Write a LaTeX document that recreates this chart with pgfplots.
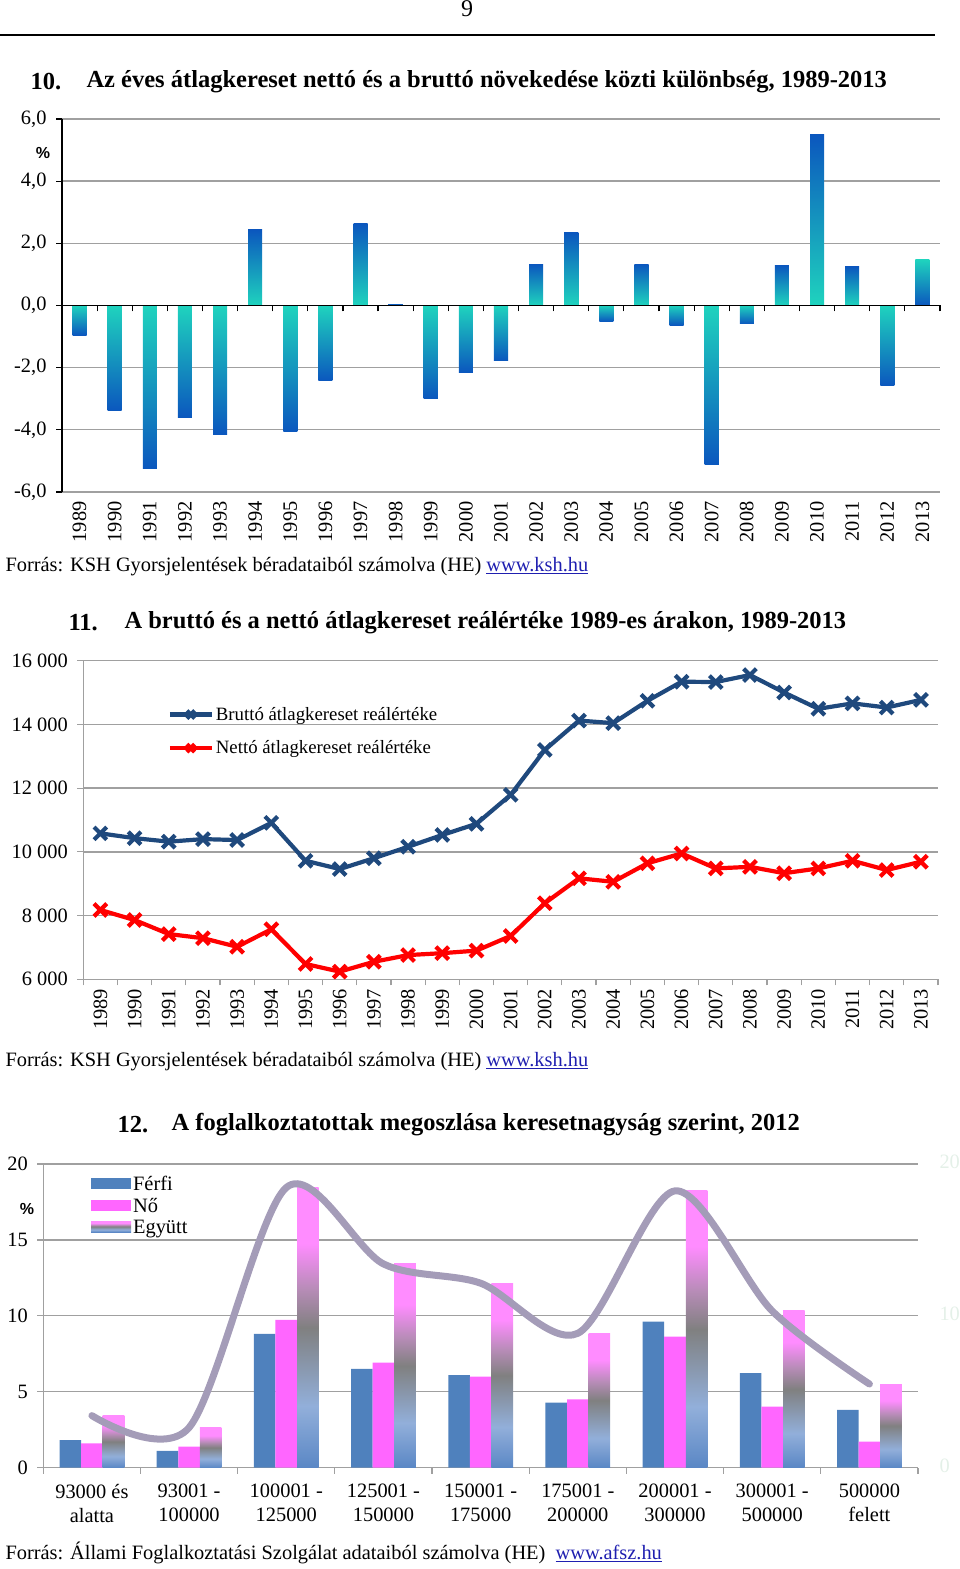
\documentclass[border=0pt]{standalone}
\usepackage{pgfplots}
\usepackage{pgfplotstable}
\pgfplotsset{compat=1.18}
\usepackage{fontspec}
\setmainfont{Liberation Serif}
\newfontfamily\sansf{Liberation Sans}

\definecolor{gridgray}{HTML}{A0A0A0}
\definecolor{ptop}{HTML}{0B57BE}
\definecolor{pmid}{HTML}{17A6E0}
\definecolor{pbot}{HTML}{1FD3BE}
\definecolor{bruttoblue}{HTML}{1F497D}
\definecolor{nettored}{HTML}{FF0000}
\definecolor{ferfi}{HTML}{4F81BD}
\definecolor{nocol}{HTML}{FF66FF}
\definecolor{linkblue}{HTML}{1F1FB0}
\definecolor{faint}{HTML}{E4F0E8}
\definecolor{curvecol}{HTML}{A49CB8}
\definecolor{eblue}{HTML}{5A87C5}
\definecolor{elblue}{HTML}{92AFDA}
\definecolor{egray}{HTML}{808080}
\definecolor{emauve}{HTML}{B88CB8}
\definecolor{epink}{HTML}{FF8CFF}

\pgfdeclareverticalshading{egyutt}{100bp}{color(0bp)=(eblue); color(25bp)=(eblue); color(36bp)=(elblue); color(50bp)=(egray); color(57bp)=(emauve); color(65bp)=(epink); color(100bp)=(epink)}

\newcommand{\ts}{\fontsize{20.4}{24}\selectfont}
\newcommand{\titf}{\fontsize{24.5}{26}\selectfont\bfseries}

% 10. abra: netto es brutto novekedes kozti kulonbseg (%)
\pgfplotstableread{
year diff
1989 -0.95
1990 -3.38
1991 -5.25
1992 -3.60
1993 -4.15
1995 -4.06
1996 -2.42
1999 -3.00
2000 -2.14
2001 -1.78
2004 -0.51
2006 -0.63
2007 -5.12
2008 -0.59
2012 -2.58
2013 1.47
}\diffdown
\pgfplotstableread{
year diff
1994 2.43
1997 2.63
1998 0.05
2002 1.32
2003 2.34
2005 1.32
2009 1.29
2010 5.49
2011 1.25
}\diffup

% 11. abra: realertek 1989-es arakon
\pgfplotstableread{
year brutto netto
1989 10580 8175
1990 10430 7860
1991 10320 7420
1992 10400 7290
1993 10370 7020
1994 10910 7570
1995 9720 6480
1996 9460 6240
1997 9800 6550
1998 10160 6760
1999 10530 6820
2000 10880 6900
2001 11790 7360
2002 13200 8390
2003 14120 9170
2004 14040 9060
2005 14740 9640
2006 15340 9950
2007 15330 9480
2008 15550 9530
2009 15000 9330
2010 14490 9480
2011 14660 9720
2012 14530 9430
2013 14770 9690
}\realdata

% 12. abra: megoszlas keresetnagysag szerint
\pgfplotstableread{
idx ferfi no egyutt
0 1.82 1.60 3.43
1 1.10 1.38 2.64
2 8.81 9.73 18.45
3 6.50 6.92 13.42
4 6.10 6.00 12.15
5 4.28 4.50 8.85
6 9.62 8.63 18.23
7 6.22 4.02 10.32
8 3.80 1.71 5.51
}\distdata

\pgfplotsset{
  rectlegend/.style={legend image code/.code={\path[##1, draw=none] (0pt,-5pt) rectangle (40pt,6pt);}},
}

\begin{document}
\begin{tikzpicture}[x=1pt,y=1pt]
\useasboundingbox (0,0) rectangle (960,1569);
\node[font=\fontsize{24}{24}\selectfont] at (467,1560) {9};
\draw[line width=1.5pt] (0,1534) -- (935,1534);

\node[anchor=west, font=\titf] at (27,1487) {10.};
\node[anchor=west, font=\titf] at (83,1487) {Az éves átlagkereset nettó és a bruttó növekedése közti különbség, 1989-2013};

\begin{axis}[
  at={(62pt,1077pt)}, anchor=south west, scale only axis,
  width=878pt, height=373pt,
  xmin=1988.5, xmax=2013.5, ymin=-6, ymax=6,
  axis y line*=left, axis x line*=bottom,
  x axis line style={draw=none},
  y axis line style={-, black, line width=1.3pt},
  xtick={1989,...,2013}, xtick style={draw=none},
  xticklabel style={rotate=90, anchor=east, /pgf/number format/set thousands separator={}},
  ytick={-6,-4,...,6}, ytick style={black, line width=1.2pt},
  tick align=outside, major tick length=6pt,
  yticklabel style={xshift=-6pt, /pgf/number format/.cd, fixed, fixed zerofill, precision=1, use comma},
  ymajorgrids, grid style={gridgray, line width=1.3pt},
  /pgf/number format/assume math mode=true,
  tick label style={font=\ts},
]
\pgfplotsinvokeforeach{1994,1997,1998,2002,2003,2005,2009,2010,2011}{
  \addplot[ybar, bar width=0.40, bar shift=0pt, draw=none, top color=ptop, middle color=pmid, bottom color=pbot, restrict x to domain=#1:#1] table[x=year, y=diff] {\diffup};
}
\pgfplotsinvokeforeach{1989,1990,1991,1992,1993,1995,1996,1999,2000,2001,2004,2006,2007,2008,2012,2013}{
  \addplot[ybar, bar width=0.40, bar shift=0pt, draw=none, top color=pbot, middle color=pmid, bottom color=ptop, restrict x to domain=#1:#1] table[x=year, y=diff] {\diffdown};
}
\end{axis}
\begin{axis}[
  at={(62pt,1077pt)}, anchor=south west, scale only axis,
  width=878pt, height=373pt,
  xmin=1988.5, xmax=2013.5, ymin=-6, ymax=6,
  axis x line=middle, axis y line=none,
  x axis line style={-, black, line width=1.5pt},
  xtick={1988.5,1989.5,...,2013.5}, xticklabels={},
  ytick=\empty,
  xtick style={black, line width=1.2pt},
  tick align=outside, major tick length=6pt,
]
\end{axis}
\node[font=\sansf\bfseries\fontsize{16}{16}\selectfont] at (43,1416) {\%};
\node[anchor=west, font=\ts] at (2,1002) {Forrás: KSH Gyorsjelentések béradataiból számolva (HE) \textcolor{linkblue}{\underline{www.ksh.hu}}};

\node[anchor=west, font=\titf] at (65,946) {11.};
\node[anchor=west, font=\titf] at (121,946) {A bruttó és a nettó átlagkereset reálértéke 1989-es árakon, 1989-2013};

\begin{axis}[
  at={(83.3pt,589.7pt)}, anchor=south west, scale only axis,
  width=854.7pt, height=318.6pt,
  xmin=1988.5, xmax=2013.5, ymin=6000, ymax=16000,
  axis y line*=left, axis x line*=bottom,
  axis line style={-, gridgray, line width=1.3pt},
  xtick={1989,...,2013}, xtick style={draw=none},
  extra x ticks={1988.5,1989.5,...,2013.5}, extra x tick labels={},
  extra x tick style={xtick style={draw=gridgray, line width=1.2pt}},
  xticklabel style={rotate=90, anchor=east, /pgf/number format/set thousands separator={}},
  ytick={6000,8000,...,16000}, ytick style={gridgray, line width=1.2pt},
  scaled y ticks=false,
  yticklabel style={xshift=-6pt, /pgf/number format/.cd, fixed, 1000 sep={\ }},
  tick align=outside, major tick length=6pt,
  ymajorgrids, grid style={gridgray, line width=1.3pt},
  /pgf/number format/assume math mode=true,
  tick label style={font=\ts},
  legend style={at={(0.095,0.867)}, anchor=north west, draw=none, fill=none,
    font=\fontsize{18.8}{20}\selectfont, row sep=15pt},
  legend cell align=left,
  legend image code/.code={\draw[mark repeat=2, mark phase=2, #1, mark size=5.5pt] plot coordinates {(0pt,0pt) (21pt,0pt) (42pt,0pt)};},
]
\addplot[bruttoblue, line width=4.2pt, mark=x, mark size=9pt, mark options={line width=4.2pt}] table[x=year, y=brutto] {\realdata};
\addlegendentry{Bruttó átlagkereset reálértéke}
\addplot[nettored, line width=4.2pt, mark=x, mark size=9pt, mark options={line width=4.2pt}] table[x=year, y=netto] {\realdata};
\addlegendentry{Nettó átlagkereset reálértéke}
\end{axis}
\node[anchor=west, font=\ts] at (2,507) {Forrás: KSH Gyorsjelentések béradataiból számolva (HE) \textcolor{linkblue}{\underline{www.ksh.hu}}};

\node[anchor=west, font=\titf] at (114,444) {12.};
\node[anchor=west, font=\titf] at (168,444) {A foglalkoztatottak megoszlása keresetnagyság szerint, 2012};

\begin{axis}[
  at={(43.3pt,101.3pt)}, anchor=south west, scale only axis,
  width=874.7pt, height=303.7pt,
  xmin=-0.5, xmax=8.5, ymin=0, ymax=20,
  axis y line*=left, axis x line*=bottom,
  axis line style={-, gridgray, line width=1.3pt},
  xtick={0,...,8}, xtick style={draw=none},
  xticklabels={{93000 és\\alatta},{93001 -\\100000},{100001 -\\125000},{125001 -\\150000},{150001 -\\175000},{175001 -\\200000},{200001 -\\300000},{300001 -\\500000},{500000\\felett}},
  xticklabel style={align=center, yshift=-7pt},
  extra x ticks={-0.5,0.5,...,8.5}, extra x tick labels={},
  extra x tick style={xtick style={draw=gridgray, line width=1.2pt}},
  ytick={0,5,...,20}, ytick style={gridgray, line width=1.2pt},
  yticklabel style={xshift=-6pt},
  tick align=outside, major tick length=6pt,
  ymajorgrids, grid style={gridgray, line width=1.3pt},
  /pgf/number format/assume math mode=true,
  tick label style={font=\ts},
  legend style={at={(0.051,0.974)}, anchor=north west, draw=none, fill=none,
    font=\ts, row sep=2pt},
  legend cell align=left,
]
\addplot[ybar, bar width=0.222, bar shift=-0.222, fill=ferfi, draw=none, rectlegend] table[x=idx, y=ferfi] {\distdata};
\addlegendentry{Férfi}
\addplot[ybar, bar width=0.222, bar shift=0, fill=nocol, draw=none, rectlegend] table[x=idx, y=no] {\distdata};
\addlegendentry{Nő}
\addlegendimage{rectlegend, shading=egyutt, draw=none}
\addlegendentry{Együtt}
\pgfplotsinvokeforeach{0,...,8}{
  \addplot[ybar, bar width=0.222, bar shift=0.222, shading=egyutt, draw=none, forget plot, restrict x to domain=#1:#1] table[x=idx, y=egyutt] {\distdata};
}
\addplot[smooth, curvecol, line width=7pt, line cap=round, forget plot] table[x=idx, y=egyutt] {\distdata};
\end{axis}
\node[font=\sansf\bfseries\fontsize{16}{16}\selectfont] at (27,360) {\%};
\node[anchor=west, font=\ts, text=faint] at (936,407) {20};
\node[anchor=west, font=\ts, text=faint] at (936,255) {10};
\node[anchor=west, font=\ts, text=faint] at (936,103) {0};
\node[anchor=west, font=\ts] at (2,16) {Forrás: Állami Foglalkoztatási Szolgálat adataiból számolva (HE)\ \ \textcolor{linkblue}{\underline{www.afsz.hu}}};
\end{tikzpicture}
\end{document}
